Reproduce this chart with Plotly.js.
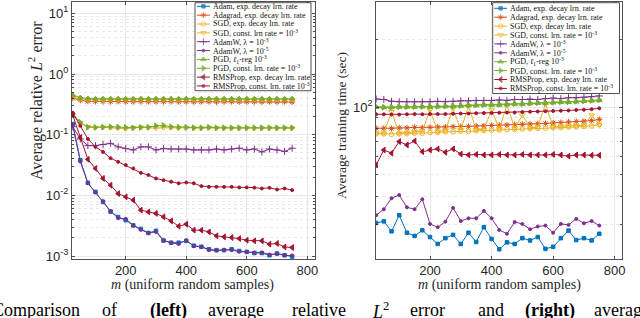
<!DOCTYPE html>
<html><head><meta charset="utf-8">
<script src="https://cdn.plot.ly/plotly-3.0.1.min.js"></script>
<style>html,body{margin:0;padding:0;background:#fff}#chart{width:640px;height:318px}</style>
</head><body><div id="chart"></div>
<script>
// ---------------- data ----------------
const m = [25,50,75,100,125,150,175,200,225,250,275,300,325,350,375,400,425,450,475,500,525,550,575,600,625,650,675,700,725,750];

const seriesNames = [
  "Adam, exp. decay lrn. rate",
  "Adagrad, exp. decay lrn. rate",
  "SGD, exp. decay lrn. rate",
  "SGD, const. lrn rate = 10<sup>-3</sup>",
  "AdamW, λ = 10<sup>-3</sup>",
  "AdamW, λ = 10<sup>-5</sup>",
  "PGD, <i>ℓ</i><sub>1</sub>-reg 10<sup>-3</sup>",
  "PGD, const. lrn. rate = 10<sup>-3</sup>",
  "RMSProp, exp. decay lrn. rate",
  "RMSProp, const. lrn. rate 10<sup>-3</sup>"
];
const seriesNamesRight = [
  "Adam, exp. decay lrn. rate",
  "Adagrad, exp. decay lrn. rate",
  "SGD, exp. decay lrn. rate",
  "SGD, const. lrn. rate = 10<sup>-3</sup>",
  "AdamW, λ = 10<sup>-3</sup>",
  "AdamW, λ = 10<sup>-5</sup>",
  "PGD, <i>ℓ</i><sub>1</sub>-reg 10<sup>-3</sup>",
  "PGD, const. lrn. rate = 10<sup>-3</sup>",
  "RMSProp, exp. decay lrn. rate",
  "RMSProp, const. lrn. rate = 10<sup>-3</sup>"
];

// left: average relative L2 error
const adamErr      = [0.15,0.038,0.0161,0.0114,0.0078,0.0054,0.0044,0.0039,0.0032,0.0028,0.0024,0.0026,0.0018,0.00166,0.00166,0.00178,0.00148,0.00142,0.00129,0.00125,0.00125,0.00129,0.00121,0.00117,0.00112,0.00112,0.00103,0.0011,0.00103,0.00098];
const adagradErr   = [0.40,0.37,0.355,0.352,0.352,0.35,0.352,0.35,0.35,0.352,0.35,0.35,0.35,0.352,0.35,0.35,0.348,0.35,0.35,0.348,0.35,0.35,0.348,0.35,0.35,0.348,0.35,0.348,0.35,0.345];
const sgdExpErr    = [0.42,0.39,0.385,0.383,0.385,0.383,0.385,0.383,0.383,0.385,0.383,0.383,0.385,0.383,0.383,0.385,0.383,0.383,0.383,0.385,0.383,0.383,0.383,0.385,0.383,0.383,0.383,0.383,0.385,0.383];
const sgdConstErr  = [0.21,0.155,0.135,0.13,0.132,0.13,0.128,0.125,0.13,0.132,0.13,0.128,0.13,0.13,0.128,0.13,0.128,0.128,0.13,0.128,0.128,0.127,0.127,0.128,0.127,0.127,0.128,0.127,0.128,0.127];
const adamW3Err    = [0.135,0.085,0.066,0.066,0.069,0.072,0.063,0.059,0.056,0.063,0.063,0.056,0.059,0.058,0.058,0.058,0.056,0.056,0.056,0.058,0.056,0.058,0.060,0.056,0.058,0.052,0.058,0.056,0.053,0.060];
const adamW5Err    = [0.14,0.036,0.0158,0.0112,0.0080,0.0055,0.0042,0.0041,0.0032,0.0027,0.0024,0.0025,0.0018,0.00165,0.00158,0.00182,0.00145,0.00142,0.00126,0.00123,0.00127,0.00125,0.00118,0.00117,0.00114,0.00114,0.00106,0.00109,0.00102,0.00102];
const pgdL1Err     = [0.45,0.41,0.395,0.39,0.39,0.392,0.39,0.39,0.39,0.392,0.39,0.39,0.39,0.392,0.39,0.39,0.39,0.39,0.392,0.39,0.39,0.39,0.39,0.392,0.39,0.39,0.39,0.39,0.39,0.39];
const pgdConstErr  = [0.22,0.16,0.133,0.132,0.133,0.135,0.133,0.132,0.13,0.132,0.133,0.14,0.142,0.135,0.133,0.132,0.13,0.13,0.132,0.13,0.13,0.13,0.13,0.13,0.13,0.13,0.13,0.13,0.13,0.13];
const rmsExpErr    = [0.21,0.09,0.0391,0.0278,0.0190,0.0147,0.0107,0.00944,0.00833,0.0057,0.00534,0.00503,0.00442,0.00379,0.0031,0.00335,0.00267,0.00267,0.0025,0.00215,0.00207,0.00202,0.00194,0.00182,0.00178,0.00178,0.00157,0.00161,0.00141,0.00138];
const rmsConstErr  = [0.23,0.14,0.085,0.063,0.052,0.041,0.0357,0.0316,0.0278,0.0235,0.0216,0.019,0.0178,0.0168,0.0158,0.0163,0.0158,0.0142,0.0138,0.0138,0.0138,0.0138,0.0135,0.0135,0.0134,0.0130,0.0133,0.0125,0.0130,0.0122];

// right: average training time (sec)
const adamTime     = [30.5,31,28,33,27.6,26.7,28.3,26.4,24.6,26.1,27,24.6,27.6,25.1,29.2,25.9,23.3,25,24.6,26.1,25.5,26.4,23.4,23.9,26.1,28.2,25.6,26.1,25.5,27.3];
const adagradTime  = [80.4,80.4,80.2,80.8,80.8,81.2,81,81.2,81.5,81.5,81.8,82,82,82.3,82.5,82.8,83,83.2,83.5,83.8,84,84.3,84.5,85,85.3,85.8,86.2,86.5,87,88.1];
const sgdExpTime   = [75.9,75.9,75.5,75.8,76,76.5,76.5,77,77,77.5,77.5,78,78,78.3,78.5,78.8,79,79.3,79.5,79.8,80,80.3,80.5,80.8,81,81.3,81.5,82,82.3,83.2];
const sgdConstTime = [76.5,76.5,95.3,76.5,77,77.5,78,97,78,78.5,98.7,79,101,79.3,79.5,97,80,102,80.5,92,81,81.3,103,81.8,82,82.3,82.5,83,92,83.5];
const adamW3Time   = [108.5,108,106,105.5,105.5,105.5,105.5,105.5,106,105.5,106,106.5,106.5,107,107,107,107.5,107,108,108,108.5,108,109,109.5,109,110,110,110.5,111,112];
const adamW5Time   = [33,35.1,39.3,40.6,35.8,35.1,38.9,30.2,29.2,30.9,35.6,31.1,32,32,34.5,32,28.4,27.3,30.8,30.2,28.6,29.4,29.7,27.6,30.2,29.9,31.8,30.4,31.1,29.7];
const pgdL1Time    = [99.7,99.5,99.5,100,100,100,100.3,100,100.3,100.5,100.5,101,101.5,101.5,102,102,102,102.5,103,103,103.5,104,104,104.5,105,105,105.5,106,106.5,107];
const pgdConstTime = [100.2,99.8,100,100.3,100.3,100.5,100.5,100.5,100.8,101,101,101.5,102,102,102.5,102.5,103,103,103.5,103.5,104,104.5,104.5,105,105.5,105.5,106,106.5,107,107.5];
const rmsExpTime   = [55.2,64.4,62.3,70.2,67.8,70.6,63.3,64.4,65.1,62.9,65.1,61.8,61.2,61.5,61.2,61.2,61.5,61.2,61.2,61.5,61.2,61.2,61.2,61.5,61.2,60.5,61.2,61.2,61,61];
const rmsConstTime = [92.8,92.8,92.5,92.5,92.8,93,92.8,93,93,93,93.3,93.5,93.5,93.8,94,94,94.3,94.5,94.5,95,95.3,95.5,95.8,96,96.3,96.5,97,97.3,97.8,98.7];

const leftYTickVals  = [0.001,0.01,0.1,1,10];
const leftYTickText  = ["10<sup>-3</sup>","10<sup>-2</sup>","10<sup>-1</sup>","10<sup>0</sup>","10<sup>1</sup>"];
const rightYTickVals = [100];
const rightYTickText = ["10<sup>2</sup>"];
const xTickVals = [200,400,600,800];

const leftY  = [adamErr,adagradErr,sgdExpErr,sgdConstErr,adamW3Err,adamW5Err,pgdL1Err,pgdConstErr,rmsExpErr,rmsConstErr];
const rightY = [adamTime,adagradTime,sgdExpTime,sgdConstTime,adamW3Time,adamW5Time,pgdL1Time,pgdConstTime,rmsExpTime,rmsConstTime];

// ---------------- styles ----------------
const styles = [
  {color:'#0072BD', symbol:'square', size:3.5},
  {color:'#D95319', symbol:'asterisk-open', size:5},
  {color:'#EDB120', symbol:'circle-open', size:4.5},
  {color:'#EDB120', symbol:'triangle-down-open', size:5},
  {color:'#7E2F8E', symbol:'cross-thin-open', size:5},
  {color:'#7E2F8E', symbol:'circle', size:3},
  {color:'#77AC30', symbol:'triangle-up', size:5},
  {color:'#77AC30', symbol:'triangle-right', size:5},
  {color:'#A2142F', symbol:'triangle-left', size:5},
  {color:'#A2142F', symbol:'circle', size:3}
];

const W = 640, H = 318;
const px = x => x / W;
const py = y => 1 - y / H;

const traces = [];
function addSeries(ys, xa, ya) {
  ys.forEach((y, i) => {
    const s = styles[i];
    traces.push({
      x: m, y: y, xaxis: xa, yaxis: ya, type: 'scatter', mode: 'lines+markers',
      line: {color: s.color, width: 1},
      marker: {color: s.color, symbol: s.symbol, size: s.size, line: {color: s.color, width: 1}},
      hoverinfo: 'skip', showlegend: false
    });
  });
}
addSeries(leftY, 'x', 'y');
addSeries(rightY, 'x2', 'y2');

// manual legends (overlay axes in pixel units)
const legends = [
  {names: seriesNames, x0:195, x1:311, y0:2.7, y1:90.7, lx0:196.8, lx1:210, tx:212, r0:6.3, dr:8.85},
  {names: seriesNamesRight, x0:492.7, x1:619.5, y0:2.7, y1:93.5, lx0:494.3, lx1:507, tx:508.5, r0:8.3, dr:8.9}
];
const annotations = [];
legends.forEach(L => {
  traces.push({x:[L.x0,L.x1,L.x1,L.x0,L.x0], y:[L.y0,L.y0,L.y1,L.y1,L.y0], xaxis:'x3', yaxis:'y3',
    mode:'lines', fill:'toself', fillcolor:'#ffffff', line:{color:'#262626', width:0.8}, hoverinfo:'skip', showlegend:false});
  L.names.forEach((nm, i) => {
    const s = styles[i];
    const yy = L.r0 + i * L.dr;
    traces.push({x:[L.lx0,(L.lx0+L.lx1)/2,L.lx1], y:[yy,yy,yy], xaxis:'x3', yaxis:'y3', mode:'lines+markers',
      line:{color:s.color, width:1}, marker:{color:s.color, symbol:s.symbol, size:[0,s.size,0], line:{color:s.color,width:1}},
      hoverinfo:'skip', showlegend:false});
    annotations.push({xref:'paper', yref:'paper', x:px(L.tx), y:py(yy), xanchor:'left', yanchor:'middle',
      text:nm, showarrow:false, font:{family:'Liberation Serif, serif', size:8, color:'#111'}, borderpad:0});
  });
});

// axis titles
const titleFont = {family:'Liberation Serif, serif', color:'#262626'};
annotations.push({xref:'paper', yref:'paper', x:px(192), y:py(285), xanchor:'center', yanchor:'middle', showarrow:false,
  text:'<i>m</i> (uniform random samples)', font:Object.assign({size:14}, titleFont)});
annotations.push({xref:'paper', yref:'paper', x:px(499), y:py(285), xanchor:'center', yanchor:'middle', showarrow:false,
  text:'<i>m</i> (uniform random samples)', font:Object.assign({size:14}, titleFont)});
annotations.push({xref:'paper', yref:'paper', x:px(35), y:py(101), xanchor:'center', yanchor:'middle', showarrow:false, textangle:-90,
  text:'Average relative <i>L</i><sup>2</sup> error', font:Object.assign({size:16}, titleFont)});
annotations.push({xref:'paper', yref:'paper', x:px(341), y:py(126), xanchor:'center', yanchor:'middle', showarrow:false, textangle:-90,
  text:'Average training time (sec)', font:Object.assign({size:13.5}, titleFont)});

// clipped caption line at the bottom
const captionWords = ["Comparison","of","<b>(left)</b>","average","relative","<i>L</i><sup>2</sup>","error","and","<b>(right)</b>","average"];
const captionX = [-10,100,148,206,290,370,408,476,523,592];
captionWords.forEach((w, i) => {
  annotations.push({xref:'paper', yref:'paper', x:px(captionX[i]), y:py(310), xanchor:'left', yanchor:'middle', showarrow:false,
    text:w, font:{family:'Liberation Serif, serif', size:18, color:'#000'}});
});

// minor grid values
const minorLeft = [];
for (let e = -4; e <= 1; e++) for (let k = 2; k <= 9; k++) minorLeft.push(k * Math.pow(10, e));
const minorRight = [20,30,40,50,60,70,80,90,200,300];

const axisCommon = {
  ticks:'inside', ticklen:3, tickcolor:'#262626', tickwidth:0.8,
  showline:true, linecolor:'#262626', linewidth:0.8, mirror:'ticks',
  showgrid:true, gridcolor:'#e3e3e3', gridwidth:0.8, zeroline:false,
  tickfont:{family:'Liberation Sans, Arial, sans-serif', size:13, color:'#262626'}
};
const minorCommon = {ticks:'inside', ticklen:2, tickcolor:'#262626', showgrid:true, gridcolor:'#e0e0e0', griddash:'dot', gridwidth:0.7};

const yDom = [1 - 259/H, 1 - 2/H];
const layout = {
  width: W, height: H, margin:{l:0,r:0,t:0,b:0},
  paper_bgcolor:'#ffffff', plot_bgcolor:'rgba(0,0,0,0)', showlegend:false,
  xaxis: Object.assign({}, axisCommon, {domain:[71.7/W, 315/W], range:[21.5,825.5], tickvals:xTickVals, anchor:'y'}),
  yaxis: Object.assign({}, axisCommon, {domain:yDom, type:'log', range:[-3.049,1.187], tickvals:leftYTickVals, ticktext:leftYTickText, anchor:'x',
    minor:Object.assign({tickvals:minorLeft}, minorCommon)}),
  xaxis2: Object.assign({}, axisCommon, {domain:[376/W, 621.7/W], range:[24.6,822.7], tickvals:xTickVals, anchor:'y2'}),
  yaxis2: Object.assign({}, axisCommon, {domain:yDom, type:'log', range:[1.324,2.467], tickvals:rightYTickVals, ticktext:rightYTickText, anchor:'x2',
    minor:Object.assign({tickvals:minorRight}, minorCommon)}),
  xaxis3: {domain:[0,1], range:[0,W], visible:false, fixedrange:true, anchor:'y3'},
  yaxis3: {domain:[0,1], range:[H,0], visible:false, fixedrange:true, anchor:'x3'},
  annotations: annotations
};

Plotly.newPlot('chart', traces, layout, {staticPlot:true, displayModeBar:false});
</script></body></html>
